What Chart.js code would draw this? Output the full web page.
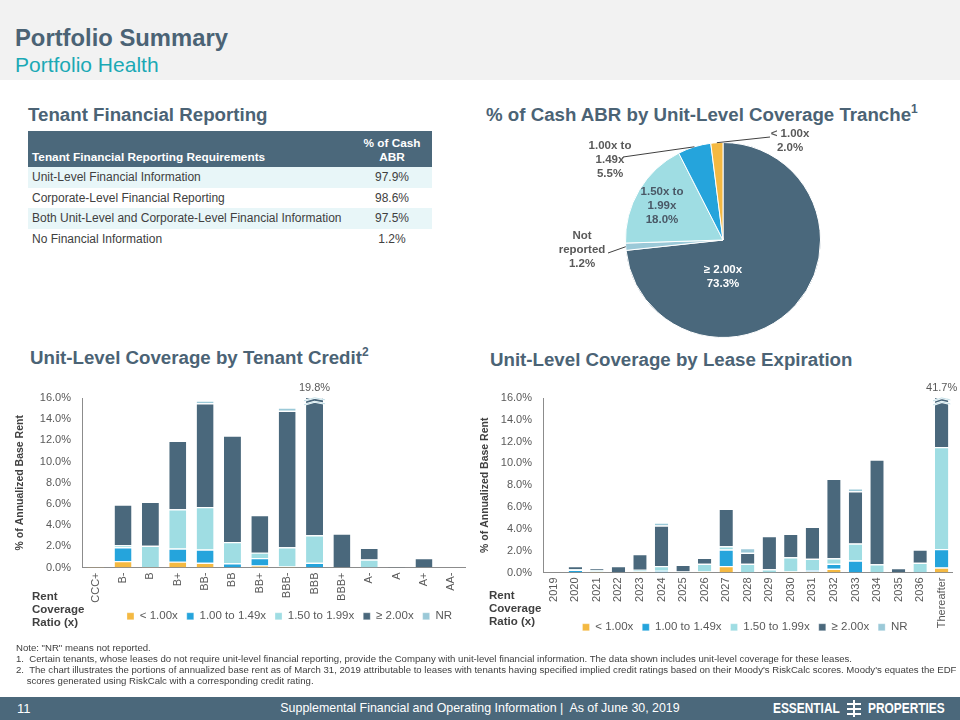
<!DOCTYPE html>
<html>
<head>
<meta charset="utf-8">
<script src="https://cdn.jsdelivr.net/npm/chart.js@4.4.1/dist/chart.umd.min.js"></script>
<style>
  body { margin:0; width:960px; height:720px; position:relative; overflow:hidden; background:#fff; font-family:"Liberation Sans", Arial, sans-serif; }
  .abs { position:absolute; }
  #hdr { left:0; top:0; width:960px; height:80px; background:#f2f2f2; }
  #title { left:15px; top:24px; font-size:23.8px; font-weight:bold; color:#4b6375; }
  #subtitle { left:15px; top:53px; font-size:21px; color:#1ba9b5; }
  .sect { font-size:18.7px; font-weight:bold; color:#4b6375; white-space:nowrap; }
  .sect sup { font-size:12px; vertical-align:top; position:relative; top:-2px; }
  table { border-collapse:collapse; font-size:12px; color:#404040; }
  th { background:#4b687b; color:#fff; font-weight:bold; font-size:11.8px; line-height:14px; height:33px; padding:0 4px 3px 4px; vertical-align:bottom; }
  td { height:20.5px; padding:0 4px; }
  tr.sh td { background:#e8f6f8; }
  .rc { font-size:11.5px; font-weight:bold; color:#404040; line-height:12.8px; }
  #notes { left:16px; top:642px; font-size:9.6px; color:#404040; line-height:11px; white-space:nowrap; }
  #foot { left:0; top:697px; width:960px; height:23px; background:#4b687b; color:#fff; }
  .narrow { transform:scaleX(0.82); transform-origin:left top; white-space:nowrap; }
</style>
</head>
<body>
<div id="hdr" class="abs"></div>
<div id="title" class="abs">Portfolio Summary</div>
<div id="subtitle" class="abs">Portfolio Health</div>

<div class="abs sect" style="left:28px;top:104px;">Tenant Financial Reporting</div>
<div class="abs sect" style="left:486px;top:104px;">% of Cash ABR by Unit-Level Coverage Tranche<sup>1</sup></div>
<div class="abs sect" style="left:30px;top:347px;">Unit-Level Coverage by Tenant Credit<sup>2</sup></div>
<div class="abs sect" style="left:490px;top:349px;">Unit-Level Coverage by Lease Expiration</div>

<table class="abs" id="tbl" style="left:28px;top:131px;width:404px;"></table>

<div class="abs" style="left:540px;top:125px;width:366px;height:230px;"><canvas id="pie"></canvas></div>
<div class="abs" style="left:10px;top:380px;width:460px;height:256px;"><canvas id="credit"></canvas></div>
<div class="abs" style="left:475px;top:380px;width:485px;height:283px;"><canvas id="expiry"></canvas></div>

<div class="abs rc" style="left:32px;top:590px;">Rent<br>Coverage<br>Ratio (x)</div>
<div class="abs rc" style="left:489px;top:589px;">Rent<br>Coverage<br>Ratio (x)</div>

<div id="notes" class="abs">
  Note: "NR" means not reported.<br>
  1.&nbsp; Certain tenants, whose leases do not require unit-level financial reporting, provide the Company with unit-level financial information. The data shown includes unit-level coverage for these leases.<br>
  2.&nbsp; The chart illustrates the portions of annualized base rent as of March 31, 2019 attributable to leases with tenants having specified implied credit ratings based on their Moody's RiskCalc scores. Moody's equates the EDF<br>
  &nbsp;&nbsp;&nbsp;&nbsp;scores generated using RiskCalc with a corresponding credit rating.
</div>

<div id="foot" class="abs">
  <div class="abs" style="left:17px;top:4px;font-size:13px;">11</div>
  <div class="abs" style="left:0;width:960px;top:4px;font-size:12.4px;text-align:center;">Supplemental Financial and Operating Information |&nbsp; As of June 30, 2019</div>
  <div class="abs narrow" style="left:773px;top:3px;font-size:14.5px;font-weight:bold;">ESSENTIAL</div>
  <div class="abs" style="left:847px;top:3px;width:14px;height:17px;">
    <div class="abs" style="left:6px;top:0;width:2px;height:17px;background:#fff;"></div>
    <div class="abs" style="left:0;top:3px;width:14px;height:2px;background:#fff;"></div>
    <div class="abs" style="left:0;top:8px;width:14px;height:2px;background:#fff;"></div>
    <div class="abs" style="left:0;top:13px;width:14px;height:2px;background:#fff;"></div>
  </div>
  <div class="abs narrow" style="left:868px;top:3px;font-size:14.5px;font-weight:bold;">PROPERTIES</div>
</div>

<script>
// table
const reqNames = ['Unit-Level Financial Information', 'Corporate-Level Financial Reporting',
  'Both Unit-Level and Corporate-Level Financial Information', 'No Financial Information'];
const reqPct = [97.9, 98.6, 97.5, 1.2];

// pie: % of cash ABR by tranche (clockwise from 12 o'clock)
const trancheLabels = [['≥ 2.00x'], ['Not', 'reported'], ['1.50x to', '1.99x'], ['1.00x to', '1.49x'], ['< 1.00x']];
const tranchePct = [73.3, 1.2, 18.0, 5.5, 2.0];

// credit chart
const creditCats = ['CCC+', 'B-', 'B', 'B+', 'BB-', 'BB', 'BB+', 'BBB-', 'BBB', 'BBB+', 'A-', 'A', 'A+', 'AA-'];
const creditLt100 = [0.1, 0.6, 0.05, 0.55, 0.45, 0, 0.2, 0.1, 0, 0, 0, 0, 0, 0];
const credit100 = [0, 1.3, 0, 1.25, 1.25, 0.4, 0.7, 0, 0.45, 0, 0, 0, 0, 0];
const credit150 = [0, 0.2, 2.0, 3.7, 4.0, 2.0, 0.5, 1.8, 2.6, 0, 0.75, 0, 0, 0];
const creditGe200 = [0, 3.85, 4.15, 6.45, 9.8, 10.05, 3.55, 12.9, 16.75, 3.2, 1.1, 0.1, 0.9, 0];
const creditNR = [0, 0, 0, 0, 0.25, 0, 0, 0.3, 0, 0, 0, 0, 0, 0];

// lease expiration chart
const expCats = ['2019', '2020', '2021', '2022', '2023', '2024', '2025', '2026', '2027', '2028',
  '2029', '2030', '2031', '2032', '2033', '2034', '2035', '2036', 'Thereafter'];
const expLt100 = [0, 0, 0.1, 0, 0.1, 0, 0, 0.1, 0.6, 0, 0, 0.1, 0.1, 0.35, 0, 0, 0, 0, 0.45];
const exp100 = [0, 0.25, 0, 0, 0, 0.15, 0, 0, 1.5, 0, 0, 0, 0.1, 0.45, 1.1, 0, 0, 0.05, 1.7];
const exp150 = [0, 0.05, 0.1, 0, 0.15, 0.45, 0.1, 0.7, 0.3, 0.8, 0.3, 1.3, 1.05, 0.5, 1.55, 0.75, 0, 0.85, 9.35];
const expGe200 = [0, 0.3, 0.2, 0.6, 1.45, 3.7, 0.6, 0.55, 3.45, 1.0, 3.05, 2.15, 2.95, 7.3, 4.8, 9.6, 0.4, 1.2, 30.2];
const expNR = [0, 0, 0, 0, 0, 0.28, 0, 0, 0, 0.45, 0, 0, 0, 0, 0.28, 0, 0, 0, 0];

const yTicks = [0, 2, 4, 6, 8, 10, 12, 14, 16];
const seriesNames = ['< 1.00x', '1.00 to 1.49x', '1.50 to 1.99x', '≥ 2.00x', 'NR'];

const cYellow = '#f4b942', cBlue = '#25a4dc', cLight = '#9fdde3', cDark = '#4a687c', cNR = '#9bc9d8';
const seriesColors = [cYellow, cBlue, cLight, cDark, cNR];
const GREY = '#595959';

Chart.defaults.font.family = '"Liberation Sans", Arial, sans-serif';
Chart.defaults.animation = false;

// build the table
let html = '<tr><th style="text-align:left;">Tenant Financial Reporting Requirements</th>' +
  '<th style="width:72px;text-align:center;">% of Cash<br>ABR</th></tr>';
reqNames.forEach(function(n, i){
  html += '<tr class="' + (i % 2 === 0 ? 'sh' : '') + '"><td>' + n + '</td><td style="text-align:center;">' +
    reqPct[i].toFixed(1) + '%</td></tr>';
});
document.getElementById('tbl').innerHTML = html;

// pie label placement relative to pie centre
const pieLabelStyle = [
  { dx: 0, dy: 30, lead: null, color: '#ffffff' },
  { dx: -141, dy: -4, lead: [-115, 13], color: GREY },
  { dx: -61, dy: -48, lead: null, color: '#4a5866' },
  { dx: -113, dy: -94, lead: [-100, -83], color: GREY },
  { dx: 67, dy: -106, lead: [47, -103], color: GREY }
];

const pieLabels = {
  id: 'pieLabels',
  afterDatasetsDraw(chart) {
    const ctx = chart.ctx;
    const arcs = chart.getDatasetMeta(0).data;
    ctx.save();
    ctx.font = 'bold 11.5px "Liberation Sans", Arial, sans-serif';
    ctx.textAlign = 'center';
    ctx.textBaseline = 'middle';
    arcs.forEach(function(arc, i) {
      const st = pieLabelStyle[i];
      const lines = trancheLabels[i].concat([tranchePct[i].toFixed(1) + '%']);
      if (st.lead) {
        const mid = (arc.startAngle + arc.endAngle) / 2;
        ctx.strokeStyle = '#404040';
        ctx.lineWidth = 1;
        ctx.beginPath();
        ctx.moveTo(arc.x + st.lead[0], arc.y + st.lead[1]);
        ctx.lineTo(arc.x + Math.cos(mid) * arc.outerRadius, arc.y + Math.sin(mid) * arc.outerRadius);
        ctx.stroke();
      }
      ctx.fillStyle = st.color;
      lines.forEach(function(t, k) {
        ctx.fillText(t, arc.x + st.dx, arc.y + st.dy + k * 14);
      });
    });
    ctx.restore();
  }
};

new Chart(document.getElementById('pie'), {
  type: 'pie',
  data: {
    labels: trancheLabels.map(function(l){ return l.join(' '); }),
    datasets: [{
      data: tranchePct,
      backgroundColor: [cDark, cNR, cLight, cBlue, cYellow],
      borderColor: '#ffffff',
      borderWidth: 1
    }]
  },
  options: {
    responsive: true,
    maintainAspectRatio: false,
    layout: { padding: { top: 17, bottom: 17 } },
    plugins: { legend: { display: false }, tooltip: { enabled: false } }
  },
  plugins: [pieLabels]
});

// break marks + total label for bars past the axis max
const overflowMarks = {
  id: 'overflowMarks',
  afterDatasetsDraw(chart) {
    const ctx = chart.ctx;
    const y = chart.scales.y;
    const max = y.max;
    const n = chart.data.labels.length;
    const last = chart.getDatasetMeta(chart.data.datasets.length - 1).data;
    for (let i = 0; i < n; i++) {
      let tot = 0;
      chart.data.datasets.forEach(function(ds){ tot += ds.data[i]; });
      if (tot <= max) continue;
      const bar = last[i];
      const half = bar.width / 2 + 2;
      const yb = y.getPixelForValue(max - 0.45);
      ctx.save();
      [0, 4].forEach(function(off) {
        ctx.beginPath();
        ctx.moveTo(bar.x - half, yb - off + 2);
        ctx.lineTo(bar.x, yb - off - 1);
        ctx.lineTo(bar.x + half, yb - off + 1);
        ctx.strokeStyle = '#ffffff';
        ctx.lineWidth = 2.2;
        ctx.stroke();
        ctx.strokeStyle = '#b5d8e2';
        ctx.lineWidth = 0.8;
        ctx.stroke();
      });
      ctx.fillStyle = GREY;
      ctx.font = '11px "Liberation Sans", Arial, sans-serif';
      ctx.textAlign = 'center';
      ctx.textBaseline = 'bottom';
      ctx.fillText(tot.toFixed(1) + '%', bar.x, chart.chartArea.top - 5);
      ctx.restore();
    }
  }
};

const legendShift = {
  id: 'legendShift',
  afterLayout(chart, args, opts) {
    const lg = chart.legend;
    if (!lg) return;
    lg.left += opts.dx; lg.right += opts.dx;
    lg.top += opts.dy; lg.bottom += opts.dy;
  }
};

function stackedBars(id, cats, series, yWidth, xHeight, legendDx, legendDy) {
  return new Chart(document.getElementById(id), {
    type: 'bar',
    data: {
      labels: cats,
      datasets: series.map(function(d, i) {
        return {
          label: seriesNames[i],
          data: d,
          backgroundColor: seriesColors[i],
          borderColor: '#ffffff',
          borderWidth: { top: 1.2, left: 0, right: 0, bottom: 0 },
          borderSkipped: 'start',
          categoryPercentage: 1,
          barPercentage: 0.62
        };
      })
    },
    options: {
      responsive: true,
      maintainAspectRatio: false,
      layout: { padding: { top: 18, right: 5 } },
      scales: {
        x: {
          stacked: true,
          grid: { display: false, drawTicks: false },
          border: { color: '#8c8c8c' },
          ticks: { color: GREY, font: { size: 11 }, minRotation: 90, maxRotation: 90, padding: 5, autoSkip: false },
          afterFit: function(s){ s.height = xHeight; }
        },
        y: {
          stacked: true,
          min: 0, max: 16,
          afterBuildTicks: function(s){ s.ticks = yTicks.map(function(v){ return { value: v }; }); },
          grid: { display: false, drawTicks: false },
          border: { color: '#8c8c8c' },
          ticks: { color: GREY, font: { size: 11 }, padding: 11, callback: function(v){ return v.toFixed(1) + '%'; } },
          title: { display: true, text: '% of Annualized Base Rent', color: '#404040', font: { size: 10.5, weight: 'bold' }, padding: { top: 4, bottom: 4 } },
          afterFit: function(s){ s.width = yWidth; }
        }
      },
      plugins: {
        tooltip: { enabled: false },
        legend: {
          position: 'bottom',
          labels: { boxWidth: 7, boxHeight: 7, color: GREY, font: { size: 11.5 }, padding: 9 }
        },
        legendShift: { dx: legendDx, dy: legendDy }
      }
    },
    plugins: [overflowMarks, legendShift]
  });
}

stackedBars('credit', creditCats, [creditLt100, credit100, credit150, creditGe200, creditNR], 72, 38, 52, -4);
stackedBars('expiry', expCats, [expLt100, exp100, exp150, expGe200, expNR], 68, 60, 30, -20);
</script>
</body>
</html>
